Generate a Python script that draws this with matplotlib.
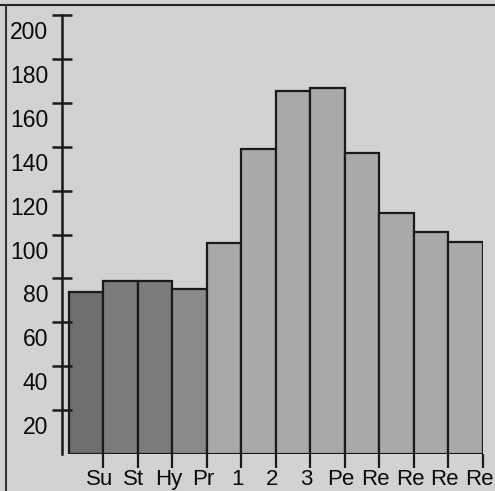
import matplotlib
matplotlib.use("Agg")
import matplotlib.pyplot as plt
from matplotlib.lines import Line2D
from matplotlib.transforms import ScaledTranslation

labels = ["Su", "St", "Hy", "Pr", "1", "2", "3", "Pe", "Re", "Re", "Re", "Re"]
values = [73.7, 79.0, 79.0, 75.1, 96.2, 139.0, 165.5, 166.8, 137.2, 109.7, 101.3, 96.8]
colors = ["#6e6e6c", "#7b7b79", "#7b7b79", "#8a8a88", "#a9a9a7", "#a9a9a7",
          "#a9a9a7", "#a9a9a7", "#a9a9a7", "#a9a9a7", "#a9a9a7", "#a9a9a7"]
yticks = [20, 40, 60, 80, 100, 120, 140, 160, 180, 200]

plt.rcParams['font.family'] = ['Liberation Sans', 'DejaVu Sans']

fig = plt.figure(figsize=(4.95, 4.91), dpi=100, facecolor="#d2d2d0")
ax = fig.add_axes([62 / 495, 1 - 454 / 491, (483 - 62) / 495, (454 - 15) / 491])
ax.set_facecolor("none")

x = list(range(len(values)))
ax.bar(x, values, width=1.0, align="edge", color=colors, edgecolor="#1a1a1a", linewidth=1.6)

ax.set_xlim(-0.2, 12.0)
ax.set_ylim(0, 200)

for s in ["top", "right", "bottom"]:
    ax.spines[s].set_visible(False)
ax.spines["left"].set_linewidth(1.8)
ax.spines["left"].set_color("#1a1a1a")

ax.set_yticks(yticks)
ax.set_yticklabels([str(v) for v in yticks], fontsize=16.5, color="#0a0a0a")
ax.tick_params(axis="y", direction="inout", length=14, width=1.8, pad=3, color="#1a1a1a")
offset = ScaledTranslation(0, -15 / 100, fig.dpi_scale_trans)
for lab in ax.get_yticklabels():
    lab.set_transform(lab.get_transform() + offset)

ax.set_xticks([i + 1 for i in x])
ax.set_xticklabels(labels, fontsize=16, color="#0a0a0a")
ax.tick_params(axis="x", direction="out", length=10, width=1.6, pad=1, color="#1a1a1a")
shift = ScaledTranslation(-4 / 100, 0, fig.dpi_scale_trans)
for lab in ax.get_xticklabels():
    lab.set_transform(lab.get_transform() + shift)

# frame lines from the photographed page
fig.add_artist(Line2D([0, 1], [1 - 5 / 491, 1 - 5 / 491], color="#222222", lw=1.5))
fig.add_artist(Line2D([6 / 495, 6 / 495], [0, 1 - 5 / 491], color="#333333", lw=1.5))

fig.savefig("out.png", dpi=100, facecolor=fig.get_facecolor())
